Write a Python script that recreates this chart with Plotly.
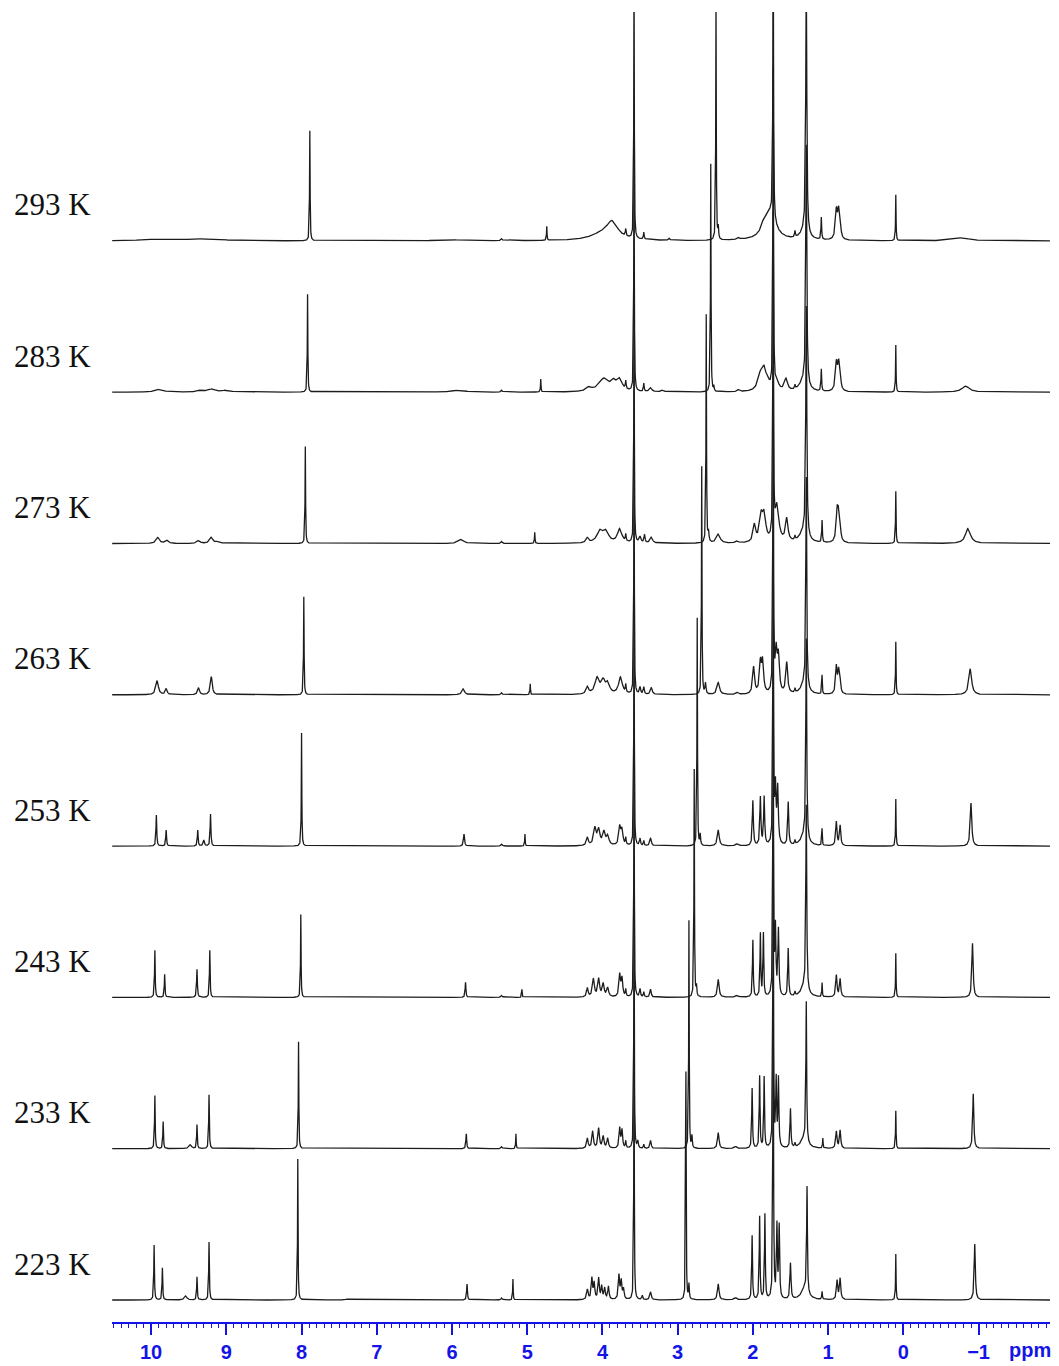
import numpy as np
import plotly.graph_objects as go

# Temperatures (bottom -> top)
TEMPS = ["223 K", "233 K", "243 K", "253 K", "263 K", "273 K", "283 K", "293 K"]

# Peak lists: (ppm, intensity, half-width in ppm)
P223 = [(9.96, 55, 0.005), (9.85, 32, 0.005), (9.54, 4, 0.02), (9.39, 23, 0.005), (9.23, 58, 0.005),
        (8.05, 141, 0.004), (7.40, 1, 0.02), (5.80, 16, 0.006), (5.34, 2, 0.01), (5.19, 21, 0.004),
        (4.20, 10, 0.012), (4.14, 21, 0.01), (4.11, 16, 0.01), (4.05, 21, 0.01), (4.01, 13, 0.01),
        (3.97, 11, 0.01), (3.92, 13, 0.01), (3.78, 24, 0.01), (3.75, 18, 0.01), (3.72, 10, 0.01),
        (3.58, 270, 0.004), (3.47, 4, 0.008), (3.36, 8, 0.012),
        (2.89, 228, 0.004), (2.85, 15, 0.006), (2.46, 16, 0.012), (2.23, 2, 0.02),
        (2.01, 64, 0.006), (1.91, 83, 0.006), (1.84, 85, 0.006), (1.73, 320, 0.005), (1.68, 72, 0.007),
        (1.65, 72, 0.007), (1.50, 36, 0.008), (1.28, 105, 0.006), (1.31, 12, 0.05),
        (1.08, 8, 0.005), (0.88, 19, 0.01), (0.84, 21, 0.01), (0.10, 46, 0.004), (-0.95, 56, 0.009)]

P233 = [(9.95, 53, 0.005), (9.84, 27, 0.005), (9.48, 4, 0.02), (9.39, 24, 0.005), (9.23, 54, 0.005),
        (8.04, 107, 0.004), (5.81, 15, 0.006), (5.34, 2, 0.01), (5.15, 15, 0.004),
        (4.20, 10, 0.012), (4.13, 17, 0.012), (4.05, 20, 0.012), (3.99, 12, 0.012), (3.93, 10, 0.012),
        (3.77, 20, 0.01), (3.74, 18, 0.01), (3.69, 7, 0.006),
        (3.58, 270, 0.004), (3.53, 7, 0.008), (3.45, 4, 0.006), (3.36, 8, 0.01),
        (2.85, 228, 0.004), (2.81, 12, 0.006), (2.46, 16, 0.012), (2.23, 2, 0.02),
        (2.01, 60, 0.006), (1.91, 72, 0.006), (1.85, 71, 0.006), (1.73, 320, 0.005), (1.69, 66, 0.007),
        (1.66, 68, 0.007), (1.50, 39, 0.007), (1.44, 4, 0.006), (1.29, 140, 0.006), (1.32, 10, 0.05),
        (1.07, 10, 0.004), (0.89, 17, 0.01), (0.84, 18, 0.01), (0.10, 38, 0.004), (-0.93, 55, 0.009)]

P243 = [(9.95, 47, 0.005), (9.82, 23, 0.005), (9.39, 28, 0.006), (9.22, 47, 0.005),
        (8.01, 83, 0.004), (5.82, 15, 0.006), (5.34, 2, 0.01), (5.07, 8, 0.004),
        (4.20, 9, 0.012), (4.12, 18, 0.015), (4.05, 18, 0.015), (3.99, 13, 0.015), (3.93, 9, 0.015),
        (3.77, 22, 0.012), (3.74, 18, 0.012), (3.69, 7, 0.006),
        (3.58, 270, 0.004), (3.50, 8, 0.008), (3.45, 5, 0.006), (3.36, 8, 0.01),
        (2.78, 228, 0.004), (2.75, 10, 0.006), (2.46, 18, 0.013), (2.21, 2, 0.02),
        (2.00, 57, 0.006), (1.90, 63, 0.006), (1.86, 63, 0.006), (1.73, 320, 0.005), (1.70, 66, 0.008),
        (1.66, 66, 0.008), (1.53, 48, 0.007), (1.44, 4, 0.006), (1.29, 185, 0.007), (1.32, 10, 0.05),
        (1.08, 14, 0.004), (0.89, 22, 0.01), (0.84, 18, 0.01), (0.10, 44, 0.004), (-0.92, 54, 0.01)]

P253 = [(9.93, 31, 0.006), (9.80, 16, 0.006), (9.38, 16, 0.006), (9.30, 6, 0.01), (9.21, 32, 0.006),
        (8.00, 113, 0.004), (5.84, 12, 0.008), (5.34, 2, 0.01), (5.03, 12, 0.004),
        (4.20, 8, 0.015), (4.10, 17, 0.02), (4.05, 15, 0.02), (3.98, 13, 0.02), (3.93, 9, 0.02),
        (3.77, 18, 0.015), (3.74, 15, 0.015), (3.69, 7, 0.006),
        (3.58, 270, 0.004), (3.50, 7, 0.008), (3.45, 5, 0.006), (3.36, 8, 0.012),
        (2.74, 228, 0.004), (2.70, 11, 0.006), (2.46, 16, 0.015), (2.21, 2, 0.02),
        (2.00, 45, 0.008), (1.90, 48, 0.008), (1.85, 48, 0.008), (1.73, 320, 0.005), (1.70, 55, 0.01),
        (1.67, 55, 0.01), (1.53, 43, 0.008), (1.44, 4, 0.006), (1.29, 200, 0.007), (1.32, 10, 0.05),
        (1.08, 17, 0.004), (0.89, 24, 0.01), (0.84, 20, 0.01), (0.10, 47, 0.004), (-0.90, 43, 0.012)]

P263 = [(9.92, 14, 0.02), (9.80, 6, 0.015), (9.37, 7, 0.015), (9.20, 18, 0.015),
        (7.97, 98, 0.004), (5.85, 6, 0.02), (5.34, 2, 0.01), (4.96, 11, 0.004),
        (4.20, 7, 0.02), (4.07, 16, 0.035), (3.99, 12, 0.03), (3.93, 10, 0.03), (3.76, 17, 0.03),
        (3.69, 8, 0.006), (3.58, 270, 0.004), (3.50, 7, 0.01), (3.45, 7, 0.008), (3.35, 7, 0.015),
        (2.68, 228, 0.004), (2.63, 11, 0.008), (2.46, 12, 0.02), (2.21, 2, 0.02),
        (1.99, 27, 0.015), (1.90, 30, 0.015), (1.87, 31, 0.015), (1.73, 320, 0.005), (1.69, 40, 0.015),
        (1.66, 35, 0.015), (1.55, 31, 0.015), (1.44, 4, 0.006), (1.29, 210, 0.007), (1.32, 10, 0.05),
        (1.08, 19, 0.004), (0.89, 27, 0.012), (0.86, 22, 0.012), (0.84, 10, 0.01),
        (0.10, 53, 0.004), (-0.89, 26, 0.022)]

P273 = [(9.91, 6, 0.025), (9.79, 3, 0.025), (9.37, 3, 0.025), (9.20, 6, 0.025), (9.11, 2, 0.03),
        (7.95, 97, 0.004), (5.88, 4, 0.04), (5.34, 2, 0.01), (4.90, 11, 0.004),
        (4.20, 5, 0.02), (4.03, 12, 0.05), (3.95, 10, 0.04), (3.77, 14, 0.035), (3.69, 7, 0.006),
        (3.58, 270, 0.004), (3.50, 6, 0.015), (3.44, 8, 0.008), (3.35, 6, 0.02),
        (2.62, 228, 0.004), (2.59, 10, 0.008), (2.46, 9, 0.03), (2.21, 2, 0.02),
        (1.98, 17, 0.02), (1.89, 24, 0.025), (1.85, 25, 0.025), (1.73, 320, 0.005), (1.68, 36, 0.03),
        (1.55, 23, 0.02), (1.44, 4, 0.006), (1.29, 230, 0.008), (1.33, 10, 0.06),
        (1.08, 22, 0.005), (0.88, 28, 0.015), (0.86, 24, 0.015), (0.84, 12, 0.01),
        (0.10, 52, 0.004), (-0.86, 15, 0.04)]

P283 = [(9.89, 3, 0.06), (9.34, 2, 0.05), (9.19, 3, 0.05), (9.00, 2, 0.06),
        (7.92, 98, 0.004), (5.91, 2, 0.1), (5.34, 2, 0.01), (4.82, 13, 0.004),
        (4.18, 4, 0.04), (3.98, 13, 0.08), (3.85, 8, 0.04), (3.77, 11, 0.04), (3.69, 8, 0.006),
        (3.58, 270, 0.004), (3.45, 8, 0.006), (3.36, 4, 0.02), (3.20, 2, 0.02),
        (2.56, 228, 0.004), (2.52, 5, 0.006), (2.19, 2, 0.02),
        (1.90, 16, 0.04), (1.85, 18, 0.03), (1.80, 6, 0.03), (1.73, 320, 0.005), (1.68, 8, 0.03),
        (1.56, 12, 0.025), (1.44, 4, 0.006), (1.29, 240, 0.008), (1.33, 10, 0.06),
        (1.09, 22, 0.005), (0.89, 27, 0.015), (0.86, 25, 0.015), (0.84, 14, 0.01),
        (0.10, 47, 0.004), (-0.83, 6, 0.06)]

P293 = [(9.83, 2, 0.25), (9.25, 2, 0.2), (7.89, 110, 0.004), (5.98, 1, 0.2), (5.34, 2, 0.01),
        (4.74, 14, 0.004), (4.00, 6, 0.2), (3.87, 16, 0.09), (3.69, 7, 0.006),
        (3.58, 270, 0.004), (3.45, 7, 0.006), (3.11, 2, 0.01),
        (2.49, 240, 0.004), (2.46, 12, 0.006), (2.19, 2, 0.02),
        (1.78, 28, 0.09), (1.86, 6, 0.03), (1.73, 320, 0.005), (1.44, 6, 0.006),
        (1.29, 260, 0.008), (1.32, 8, 0.06),
        (1.09, 22, 0.005), (0.89, 28, 0.015), (0.86, 26, 0.015), (0.84, 15, 0.01),
        (0.10, 46, 0.004), (-0.78, 3, 0.12)]

SPECTRA = [P223, P233, P243, P253, P263, P273, P283, P293]

TICK_VALS = [10, 9, 8, 7, 6, 5, 4, 3, 2, 1, 0, -1]
TICK_TEXT = ["10", "9", "8", "7", "6", "5", "4", "3", "2", "1", "0", "\u22121"]

STEP = 151.3          # intensity units between stacked spectra
X_LO, X_HI = -1.95, 10.52
BLUE = "#1414e6"

fig = go.Figure()
base_grid = np.arange(X_LO, X_HI, 0.0025)
for i, peaks in enumerate(SPECTRA):
    centers = np.array([p[0] for p in peaks])
    x = np.unique(np.concatenate([base_grid, centers]))
    y = np.zeros_like(x)
    for c, h, w in peaks:
        y += h * w * w / ((x - c) ** 2 + w * w)
    fig.add_trace(go.Scatter(x=x, y=i + y / STEP, mode="lines",
                             line=dict(color="#1c1c1c", width=1.3),
                             hoverinfo="skip", showlegend=False))
    fig.add_annotation(text=TEMPS[i], xref="paper", yref="y", x=-0.1065, y=i + 36 / STEP,
                       xanchor="left", yanchor="middle", showarrow=False,
                       font=dict(family="Liberation Serif", size=31, color="#111111"))

fig.add_annotation(text="ppm", xref="paper", yref="paper", x=0.9785, y=-0.0215,
                   xanchor="center", yanchor="middle", showarrow=False,
                   font=dict(family="Liberation Sans", size=20, color=BLUE, weight="bold"))

# page adds an 8px body margin, so the figure is sized to fit inside the window
fig.update_layout(
    width=1051, height=1358,
    margin=dict(l=104, r=9, t=4, b=44),
    paper_bgcolor="white", plot_bgcolor="white",
    xaxis=dict(range=[X_HI, X_LO], tickmode="array", tickvals=TICK_VALS, ticktext=TICK_TEXT,
               ticks="outside", ticklen=11, tickwidth=2, tickcolor=BLUE,
               showline=True, linecolor=BLUE, linewidth=2, showgrid=False, zeroline=False,
               tickfont=dict(family="Liberation Sans", size=20, color=BLUE, weight="bold"),
               minor=dict(tickmode="linear", tick0=0, dtick=0.1, ticks="outside", ticklen=4,
                          tickwidth=1, tickcolor=BLUE, showgrid=False)),
    yaxis=dict(range=[-22 / STEP, 1288 / STEP], visible=False, showgrid=False, zeroline=False),
)

fig.write_html("out.html")
